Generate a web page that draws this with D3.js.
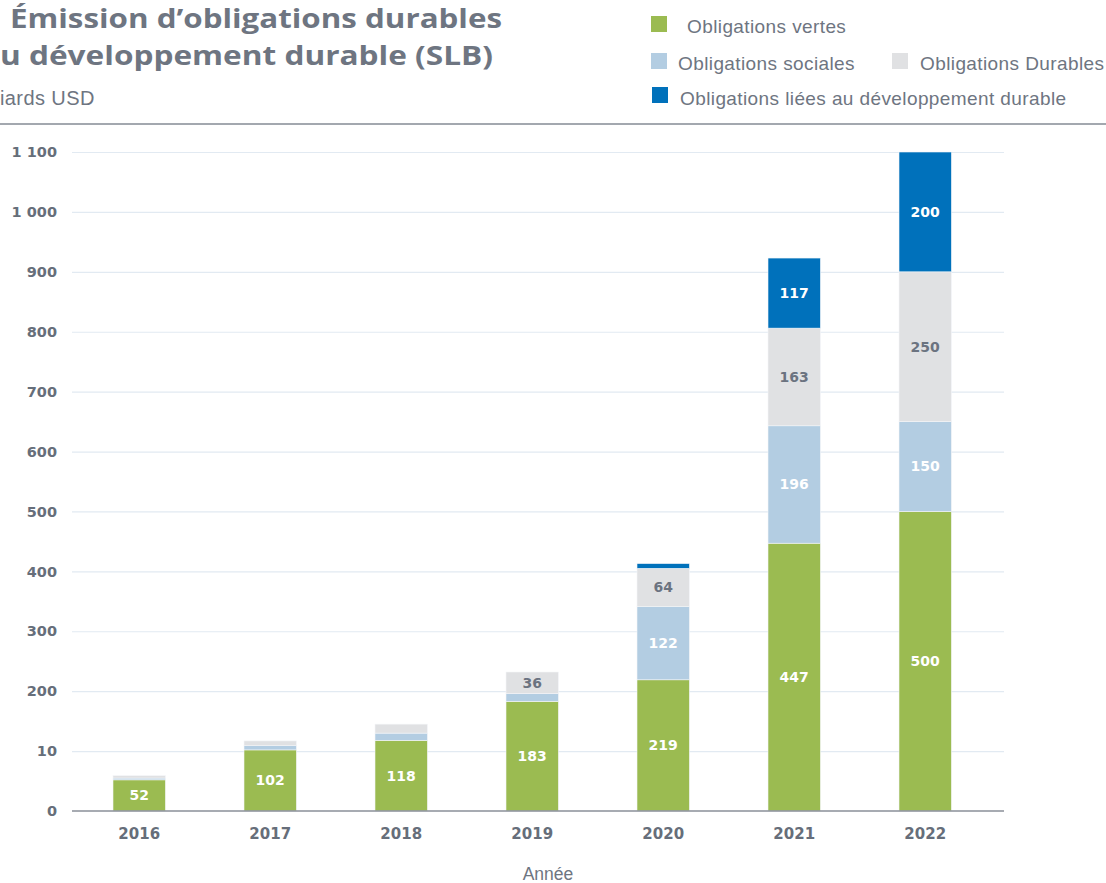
<!DOCTYPE html>
<html>
<head>
<meta charset="utf-8">
<script src="https://cdn.jsdelivr.net/npm/d3@7"></script>
<style>
  body { margin: 0; background: #fff; }
  svg { display: block; }
</style>
</head>
<body>
<div id="chart"></div>
<script>
// data
const years = ["2016", "2017", "2018", "2019", "2020", "2021", "2022"];
const vertes    = [52, 102, 118, 183, 219, 447, 500];
const sociales  = [3, 7, 12, 13, 122, 196, 150];
const durables  = [4, 8, 15, 36, 64, 163, 250];
const slb       = [0, 0, 0, 0, 8, 117, 200];
const seriesNames = ["Obligations vertes", "Obligations sociales", "Obligations Durables", "Obligations liées au développement durable"];
const yTicks = [0, 100, 200, 300, 400, 500, 600, 700, 800, 900, 1000, 1100];
const yTickLabels = ["0", "10", "200", "300", "400", "500", "600", "700", "800", "900", "1 000", "1 100"];

const width = 1106, height = 883;
const colors = ["#9bbb51", "#b3cde2", "#e0e1e3", "#0071bb"];
const labelColors = ["#fff", "#fff", "#6b7380", "#fff"];
const textGrey = "#6e7581";

const keys = ["vertes", "sociales", "durables", "slb"];
const rows = years.map((y, i) => ({year: y, vertes: vertes[i], sociales: sociales[i], durables: durables[i], slb: slb[i]}));
const stacked = d3.stack().keys(keys)(rows);

const x = d3.scaleBand().domain(years).range([73.7, 990.7]).paddingInner(0.6).paddingOuter(0.3);
const y = d3.scaleLinear().domain([0, 1100]).range([811, 152]);

const svg = d3.select("#chart").append("svg")
    .attr("width", width)
    .attr("height", height)
    .attr("viewBox", [0, 0, width, height]);

// title block (cut at the left edge like the original)
svg.append("text").attr("x", 10).attr("y", 28)
    .attr("font-family", "Open Sans").attr("font-weight", 700).attr("font-size", 27.5)
    .attr("fill", textGrey).attr("textLength", 492).attr("lengthAdjust", "spacingAndGlyphs")
    .text("Émission d’obligations durables");
svg.append("text").attr("x", 0).attr("y", 65)
    .attr("font-family", "Open Sans").attr("font-weight", 700).attr("font-size", 27.5)
    .attr("fill", textGrey).attr("textLength", 493).attr("lengthAdjust", "spacingAndGlyphs")
    .text("u développement durable (SLB)");
svg.append("text").attr("x", 0).attr("y", 105)
    .attr("font-family", "Liberation Sans").attr("font-size", 20)
    .attr("letter-spacing", 0.4)
    .attr("fill", textGrey)
    .text("iards USD");

svg.append("line").attr("x1", 0).attr("x2", width).attr("y1", 124).attr("y2", 124)
    .attr("stroke", "#858b95").attr("stroke-width", 1.5);

// legend
const legendPos = [
  {sx: 651, sy: 16, tx: 687, ty: 33},
  {sx: 651, sy: 53, tx: 678, ty: 70},
  {sx: 892, sy: 53, tx: 920, ty: 70},
  {sx: 652, sy: 87, tx: 680, ty: 105}
];
const legend = svg.append("g");
seriesNames.forEach((name, i) => {
  const p = legendPos[i];
  legend.append("rect").attr("x", p.sx).attr("y", p.sy).attr("width", 16).attr("height", 16).attr("fill", colors[i]);
  legend.append("text").attr("x", p.tx).attr("y", p.ty)
      .attr("font-family", "Liberation Sans").attr("font-size", 19)
      .attr("letter-spacing", 0.4)
      .attr("fill", textGrey).text(name);
});

// grid + y axis
svg.append("g")
    .attr("transform", "translate(72,0)")
    .call(d3.axisLeft(y).tickValues(yTicks).tickSize(0).tickPadding(15)
        .tickFormat((d, i) => yTickLabels[i]))
    .call(g => g.select(".domain").remove())
    .call(g => g.selectAll(".tick text")
        .attr("font-family", "DejaVu Sans").attr("font-weight", 700).attr("font-size", 14.5)
        .attr("fill", "#666e7a"))
    .call(g => g.selectAll(".tick").filter(d => d > 0).append("line")
        .attr("x2", 1004 - 72).attr("stroke", "#e2eaf2").attr("stroke-width", 1.2));

// bars
const layers = svg.append("g").selectAll("g")
  .data(stacked)
  .join("g")
    .attr("fill", (d, i) => colors[i]);

layers.selectAll("rect")
  .data(d => d.map(v => ({v, year: v.data.year})))
  .join("rect")
    .attr("x", d => x(d.year))
    .attr("width", x.bandwidth())
    .attr("y", d => y(d.v[1]))
    .attr("height", d => y(d.v[0]) - y(d.v[1]))
    .attr("stroke", "#f4f6f8").attr("stroke-width", 0.6);

// value labels
stacked.forEach((layer, i) => {
  svg.append("g").selectAll("text")
    .data(layer.filter(v => v[1] - v[0] >= 20))
    .join("text")
      .attr("x", d => x(d.data.year) + x.bandwidth() / 2)
      .attr("y", d => y((d[0] + d[1]) / 2))
      .attr("dy", "0.35em")
      .attr("text-anchor", "middle")
      .attr("font-family", "DejaVu Sans").attr("font-weight", 700).attr("font-size", 14)
      .attr("fill", labelColors[i])
      .text(d => d[1] - d[0]);
});

// baseline + x axis
svg.append("g")
    .attr("transform", `translate(0,${y(0)})`)
    .call(d3.axisBottom(x).tickSize(0).tickPadding(17))
    .call(g => g.select(".domain").remove())
    .call(g => g.selectAll(".tick text")
        .attr("font-family", "DejaVu Sans").attr("font-weight", 700).attr("font-size", 15)
        .attr("fill", "#666e7a"));
svg.append("line").attr("x1", 72).attr("x2", 1004).attr("y1", y(0)).attr("y2", y(0))
    .attr("stroke", "#8a8f98").attr("stroke-width", 1.5);

svg.append("text").attr("x", 548).attr("y", 880)
    .attr("text-anchor", "middle")
    .attr("font-family", "Liberation Sans").attr("font-size", 17.5)
    .attr("fill", textGrey).text("Année");
</script>
</body>
</html>
